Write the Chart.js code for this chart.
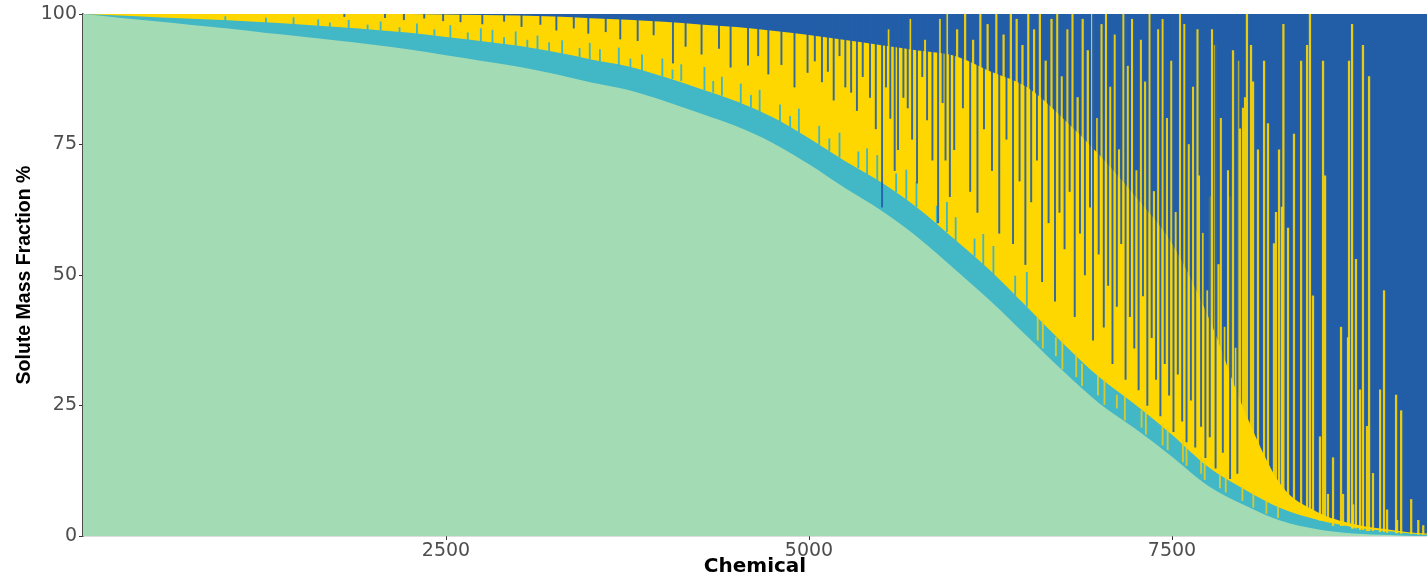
<!DOCTYPE html>
<html>
<head>
<meta charset="utf-8">
<script src="https://cdn.jsdelivr.net/npm/chart.js@4.4.0/dist/chart.umd.min.js"></script>
<style>
  html, body { margin: 0; padding: 0; background: #fff; }
  #wrap { width: 1427px; height: 577px; }
</style>
</head>
<body>
<div id="wrap"><canvas id="chart" width="1427" height="577"></canvas></div>
<script>
// chemical index (sorted by green share), read every 250
const X_POS = [0, 250, 500, 750, 1000, 1250, 1500, 1750, 2000, 2250, 2500, 2750, 3000, 3250,
  3500, 3750, 4000, 4250, 4500, 4750, 5000, 5250, 5500, 5750, 6000, 6250, 6500, 6750,
  7000, 7250, 7500, 7750, 8000, 8250, 8500, 8750, 9000, 9250, 9256];

// share of each fraction, %
const GREEN = [100, 99.3, 98.6, 97.9, 97.2, 96.4, 95.7, 94.9, 94.1, 93.2, 92.1, 91.0, 89.9, 88.5,
  86.9, 85.5, 83.4, 81.0, 78.5, 75.3, 71.2, 66.6, 62.3, 57.2, 51.2, 45.0, 38.3, 31.6,
  25.4, 20.5, 15.2, 9.6, 5.9, 2.9, 1.3, 0.5, 0.2, 0, 0];
const TEAL = [0, 0.4, 0.8, 1.2, 1.6, 2.0, 2.3, 2.6, 2.9, 3.2, 3.5, 3.8, 4.0, 4.2,
  4.4, 4.5, 4.6, 4.7, 4.8, 4.9, 5.0, 5.2, 5.4, 5.6, 5.7, 5.8, 5.6, 5.3,
  5.0, 4.6, 4.2, 3.6, 3.0, 2.4, 1.8, 1.2, 0.7, 0.3, 0.3];
const YELLOW = [0, 0.3, 0.6, 0.9, 1.2, 1.6, 2.0, 2.5, 3.0, 3.6, 4.3, 5.0, 5.8, 6.8,
  7.9, 8.9, 10.5, 12.3, 14.2, 16.6, 19.8, 23.2, 26.3, 30.2, 35.1, 38.2, 42.1, 43.1,
  42.6, 39.9, 36.6, 28.8, 15.0, 4.5, 1.5, 0.6, 0.3, 0.2, 0.2];
const BLUE = [0, 0, 0, 0, 0, 0, 0, 0, 0, 0, 0.1, 0.2, 0.3, 0.5,
  0.8, 1.1, 1.5, 2.0, 2.5, 3.2, 4.0, 5.0, 6.0, 7.0, 8.0, 11, 14, 20,
  27, 35, 44, 58, 76.1, 90.2, 95.4, 97.7, 98.8, 99.5, 99.5];

const X_TICKS = [2500, 5000, 7500];
const Y_TICKS = [0, 25, 50, 75, 100];

// single chemicals standing out from the band: [x, from, to]
const TEAL_SPIKES = [[980, 98.7, 99.5], [1260, 98.3, 99.2], [1450, 98.0, 99.3], [1620, 97.7, 98.9],
  [1700, 97.5, 98.3], [1830, 97.3, 98.8], [1960, 97.0, 97.9], [2050, 96.9, 98.5], [2180, 96.5, 97.4],
  [2300, 96.2, 98.1], [2420, 95.9, 97.0], [2530, 95.5, 97.8], [2650, 95.1, 96.4], [2740, 94.8, 97.2],
  [2820, 94.5, 96.9], [2900, 94.2, 95.5], [2980, 94.0, 96.6], [3060, 93.6, 95.0], [3130, 93.3, 95.8],
  [3210, 92.9, 94.5], [3300, 92.4, 94.9], [3420, 91.8, 93.4], [3490, 91.4, 94.4], [3560, 91.0, 93.2],
  [3690, 90.1, 93.5], [3770, 89.6, 91.4], [3850, 89.0, 92.2], [3990, 88.1, 91.4], [4060, 87.6, 89.3],
  [4120, 87.2, 90.3], [4280, 85.5, 89.8], [4340, 85.0, 87.1], [4400, 84.4, 87.9], [4530, 83.0, 86.6],
  [4600, 82.1, 84.4], [4660, 81.2, 85.4], [4800, 79.3, 82.6], [4870, 78.3, 80.4], [4930, 77.3, 81.8],
  [5070, 75.0, 78.5], [5140, 73.8, 76.1], [5210, 72.6, 77.2], [5340, 70.5, 73.6], [5400, 69.4, 74.2],
  [5470, 68.2, 72.9], [5600, 65.9, 69.4], [5670, 64.5, 70.1], [5740, 63.1, 67.8], [5880, 59.9, 63.2],
  [5950, 58.3, 63.9], [6010, 56.6, 61.0], [6140, 53.6, 56.9], [6200, 52.0, 57.8], [6270, 50.2, 55.5],
  [6420, 46.1, 49.8], [6500, 44.0, 50.5]];

const YELLOW_SPIKES = [[5550, 93.5, 97], [5700, 92.2, 99], [5800, 91.5, 95], [5900, 91, 99],
  [5950, 90, 100], [6020, 90, 97], [6075, 89, 100], [6130, 88, 95], [6180, 87, 100], [6230, 86, 98],
  [6290, 85, 100], [6340, 84, 96], [6390, 83, 100], [6430, 82, 99], [6470, 81, 94], [6510, 80, 100],
  [6550, 79, 97], [6590, 77, 100], [6630, 76, 91], [6670, 75, 99], [6710, 73, 100], [6740, 72, 88],
  [6780, 71, 97], [6815, 70, 100], [6850, 69, 84], [6885, 67, 99], [6920, 66, 93], [6950, 65, 100],
  [6985, 63, 80], [7015, 61, 98], [7045, 60, 100], [7075, 59, 86], [7105, 58, 96], [7135, 57, 74],
  [7165, 55, 100], [7195, 54, 90], [7225, 53, 99], [7255, 52, 70], [7285, 50, 95], [7315, 49, 87],
  [7345, 48, 100], [7375, 46, 66], [7405, 45, 97], [7435, 44, 99], [7465, 42, 80], [7495, 41, 91],
  [7525, 39, 62], [7555, 38, 100], [7585, 37, 98], [7615, 35, 75], [7645, 34, 86], [7675, 33, 97],
  [7686, 32, 69], [7710, 31, 58], [7741, 29, 47], [7762, 28, 65], [7775, 27, 97], [7796, 26, 94],
  [7820, 25, 52], [7837, 24, 80], [7860, 23, 40], [7886, 22, 70], [7899, 21, 65], [7920, 20, 93],
  [7940, 19, 36], [7955, 18, 91], [7968, 17, 78], [7989, 16, 82], [8003, 15, 84], [8016, 14, 100],
  [8044, 12, 94], [8058, 12, 87], [8092, 11, 74], [8134, 10, 91], [8161, 9, 79], [8202, 8, 56],
  [8216, 8, 62], [8237, 7, 74], [8257, 7, 63], [8267, 7, 98], [8299, 6, 59], [8340, 5, 77],
  [8389, 5, 91], [8430, 4, 94], [8450, 4, 100], [8471, 4, 46], [8519, 3, 19], [8540, 3, 91],
  [8554, 3, 69], [8574, 3, 8], [8609, 2, 15], [8664, 2, 40], [8678, 2, 8], [8712, 2, 38],
  [8719, 2, 91], [8740, 1.5, 98], [8747, 1.5, 6], [8767, 1.5, 53], [8795, 1.2, 28], [8815, 1.2, 94],
  [8843, 1, 21], [8857, 1, 88], [8884, 1, 12], [8933, 0.8, 28], [8960, 0.8, 47], [8981, 0.7, 5],
  [9043, 0.6, 27], [9050, 0.6, 3], [9078, 0.5, 24], [9147, 0.4, 7], [9196, 0.3, 3], [9230, 0.3, 2]];

// yellow chemicals whose teal share is small, cutting into the teal band
const YELLOW_CROSS = [[6575, 37.5, 42.0], [6610, 36.0, 41.5], [6700, 34.5, 38.0], [6745, 32.0, 38.0],
  [6840, 30.5, 35.0], [6880, 28.8, 33.0], [6990, 27.0, 30.8], [7035, 25.2, 30.0], [7120, 24.5, 27.0],
  [7175, 22.2, 27.0], [7290, 20.8, 24.0], [7320, 19.5, 24.5], [7435, 17.4, 21.5], [7470, 16.5, 20.8],
  [7575, 14.2, 18.5], [7600, 13.5, 17.8], [7700, 12.0, 15.0], [7725, 10.8, 14.5], [7830, 9.2, 12.0],
  [7870, 8.4, 11.3], [7985, 6.8, 9.6], [8060, 5.5, 8.6], [8150, 4.3, 7.0], [8230, 3.5, 5.8]];

const BLUE_SPIKES = [[1800, 99.5, 100], [2080, 99.3, 100], [2210, 98.9, 100], [2350, 99.2, 100],
  [2480, 98.7, 100], [2600, 98.5, 100], [2750, 98.1, 100], [2900, 98.6, 100], [3020, 97.6, 100],
  [3150, 98.0, 100], [3260, 96.9, 100], [3380, 97.3, 100], [3480, 96.3, 100], [3600, 96.6, 100],
  [3700, 95.2, 100], [3820, 94.9, 100], [3930, 96.0, 100], [4063, 90.6, 100], [4150, 93.8, 100],
  [4260, 92.3, 100], [4380, 93.4, 100], [4460, 89.8, 100], [4580, 90.2, 100], [4650, 92.0, 100],
  [4720, 88.5, 100], [4810, 90.3, 100], [4900, 86.0, 100], [4990, 88.8, 100], [5040, 91, 100],
  [5089, 87.0, 100], [5130, 89, 100], [5170, 83.5, 100], [5210, 92, 100], [5250, 86.0, 100],
  [5290, 85, 100], [5330, 81.5, 100], [5370, 88, 100], [5420, 84.0, 100], [5460, 78, 100],
  [5503, 63.0, 100], [5530, 86, 100], [5560, 80.0, 100], [5590, 70, 100], [5613, 74.0, 100],
  [5650, 84, 100], [5680, 82.0, 100], [5710, 76, 100], [5744, 67.6, 100], [5780, 88, 100],
  [5813, 79.7, 100], [5850, 72, 100], [5889, 60.0, 100], [5920, 83, 100], [5940, 72.0, 100],
  [5970, 65, 100], [6000, 74, 100], [6060, 82, 100], [6110, 66, 100], [6160, 62, 100], [6205, 78, 100],
  [6260, 70, 100], [6310, 58, 100], [6360, 76, 100], [6405, 56, 100], [6450, 68, 100], [6490, 52, 100],
  [6530, 64, 100], [6570, 72, 100], [6605, 48.7, 100], [6650, 60, 100], [6694, 45, 100], [6725, 62, 100],
  [6760, 55, 100], [6795, 66, 100], [6830, 42, 100], [6866, 58, 100], [6900, 50, 100], [6935, 63, 100],
  [6956, 37.5, 100], [6995, 54, 100], [7030, 40, 100], [7060, 48, 100], [7090, 33, 100], [7120, 44, 100],
  [7150, 56, 100], [7180, 30, 100], [7210, 42, 100], [7240, 36, 100], [7270, 28, 100], [7300, 46, 100],
  [7330, 25, 100], [7360, 38, 100], [7390, 30, 100], [7420, 23, 100], [7450, 33, 100], [7480, 27, 100],
  [7510, 20, 100], [7540, 31, 100], [7570, 22, 100], [7600, 18, 100], [7630, 26, 100], [7660, 17, 100],
  [7700, 21, 100], [7730, 15, 100], [7760, 19, 100], [7800, 13, 100], [7850, 16, 100], [7900, 11, 100],
  [7950, 12, 100]];

const COLORS = { green: '#a3dbb5', teal: '#42b7c5', yellow: '#ffd700', blue: '#225ea8' };

// running tops of the stacked fractions
function cumulative(...series) {
    return X_POS.map((x, i) => ({ x: x, y: series.reduce((s, arr) => s + arr[i], 0) }));
}

// every layer is filled down to 0 and painted from the top layer down, so no seams
function areaSet(label, data, color, order) {
    return {
        type: 'line', label: label, data: data, fill: 'origin',
        backgroundColor: color, borderWidth: 0, pointRadius: 0,
        cubicInterpolationMode: 'monotone', order: order
    };
}

function spikeSet(label, spikes, color, width, order) {
    return {
        type: 'bar', label: label, stack: 'spikes',
        data: spikes.map(s => ({ x: s[0], y: [s[1], s[2]] })),
        backgroundColor: color, borderWidth: 0, barThickness: width, order: order
    };
}

new Chart(document.getElementById('chart'), {
    data: {
        datasets: [
            areaSet('Green', cumulative(GREEN), COLORS.green, 5),
            areaSet('Teal', cumulative(GREEN, TEAL), COLORS.teal, 6),
            areaSet('Yellow', cumulative(GREEN, TEAL, YELLOW), COLORS.yellow, 7),
            areaSet('Blue', cumulative(GREEN, TEAL, YELLOW, BLUE), COLORS.blue, 8),
            spikeSet('Teal spikes', TEAL_SPIKES, COLORS.teal, 1.2, 3),
            spikeSet('Yellow cross', YELLOW_CROSS, 'rgba(240,205,20,0.85)', 1.2, 2),
            spikeSet('Yellow spikes', YELLOW_SPIKES, 'rgba(255,215,0,0.9)', 1.6, 1),
            spikeSet('Blue spikes', BLUE_SPIKES, 'rgba(34,94,168,0.9)', 1.3, 0)
        ]
    },
    options: {
        responsive: false,
        animation: false,
        devicePixelRatio: 1,
        layout: { padding: { top: 14, right: 0, left: 0, bottom: 0 } },
        plugins: { legend: { display: false }, tooltip: { enabled: false } },
        scales: {
            x: {
                type: 'linear', min: 0, max: 9256, offset: false,
                afterBuildTicks: s => { s.ticks = X_TICKS.map(v => ({ value: v })); },
                afterFit: s => { s.height = 41; },
                grid: { offset: false, drawOnChartArea: false, drawTicks: true, tickLength: 4, color: '#333' },
                border: { display: true, color: '#777', width: 1.2 },
                ticks: {
                    padding: 0, color: '#4d4d4d', maxRotation: 0,
                    font: { family: 'DejaVu Sans', size: 19 },
                    callback: v => String(v)
                },
                title: {
                    display: true, text: 'Chemical', color: '#000',
                    font: { family: 'DejaVu Sans', weight: 'bold', size: 20, lineHeight: 1 },
                    padding: { top: 0, bottom: 0 }
                }
            },
            y: {
                type: 'linear', min: 0, max: 100, stacked: false,
                afterBuildTicks: s => { s.ticks = Y_TICKS.map(v => ({ value: v })); },
                afterFit: s => { s.width = 83; },
                grid: { drawOnChartArea: false, drawTicks: true, tickLength: 4, color: '#333' },
                border: { display: true, color: '#4d4d4d', width: 1.5 },
                ticks: { padding: 2, color: '#4d4d4d', font: { family: 'DejaVu Sans', size: 19 } },
                title: {
                    display: true, text: 'Solute Mass Fraction %', color: '#000',
                    font: { family: 'Liberation Sans', weight: 'bold', size: 19.5, lineHeight: 1 },
                    padding: { top: 15, bottom: 0 }
                }
            }
        }
    }
});
</script>
</body>
</html>
